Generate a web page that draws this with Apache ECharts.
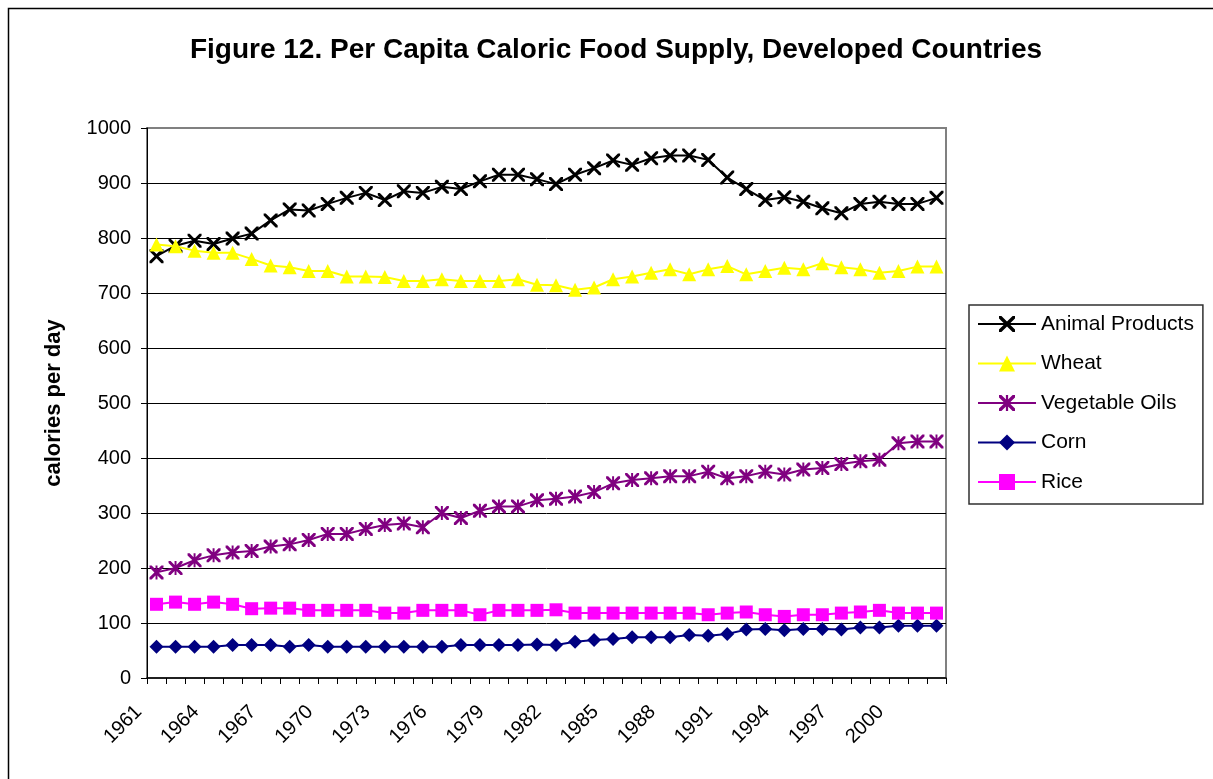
<!DOCTYPE html>
<html>
<head>
<meta charset="utf-8">
<title>Per Capita Caloric Food Supply, Developed Countries</title>
<script src="https://cdn.jsdelivr.net/npm/echarts@6/dist/echarts.min.js"></script>
<style>
  html, body { margin: 0; padding: 0; background: #ffffff; }
  #chart { width: 1213px; height: 779px; }
</style>
</head>
<body>
<div id="chart"></div>
<script>
// Years on the category axis
const years = [
  '1961','1962','1963','1964','1965','1966','1967','1968','1969','1970',
  '1971','1972','1973','1974','1975','1976','1977','1978','1979','1980',
  '1981','1982','1983','1984','1985','1986','1987','1988','1989','1990',
  '1991','1992','1993','1994','1995','1996','1997','1998','1999','2000',
  '2001','2002'
];

// Calories per person per day, by food group
const animalProducts = [
  767, 786, 795, 789, 799, 808, 832, 852, 850, 862,
  873, 882, 869, 885, 882, 893, 889, 903, 915, 915,
  907, 898, 915, 927, 941, 933, 945, 950, 950, 942,
  910, 889, 869, 874, 866, 854, 845, 862, 866, 862,
  862, 873
];
const wheat = [
  788, 785, 777, 773, 773, 762, 750, 747, 740, 740,
  730, 730, 729, 722, 722, 725, 722, 722, 722, 725,
  715, 714, 706, 710, 725, 730, 737, 743, 734, 743,
  749, 734, 740, 746, 743, 754, 747, 743, 737, 740,
  748, 748
];
const vegetableOils = [
  192, 200, 214, 223, 228, 231, 239, 243, 251, 262,
  262, 271, 278, 281, 274, 300, 291, 304, 312, 312,
  323, 326, 330, 338, 354, 360, 363, 367, 367, 375,
  363, 367, 375, 370, 379, 382, 389, 394, 397, 427,
  430, 430
];
const corn = [
  57, 57, 57, 57, 60, 60, 60, 57, 60, 57,
  57, 57, 57, 57, 57, 57, 60, 60, 60, 60,
  61, 60, 66, 69, 71, 74, 74, 74, 78, 77,
  80, 88, 89, 87, 89, 89, 88, 92, 92, 95,
  95, 95
];
const rice = [
  134, 138, 134, 138, 134, 126, 127, 127, 123, 123,
  123, 123, 118, 118, 123, 123, 123, 115, 123, 123,
  123, 124, 118, 118, 118, 118, 118, 118, 118, 115,
  118, 120, 115, 112, 115, 115, 118, 120, 123, 118,
  118, 118
];

// Marker shapes: a thin "x" cross and an asterisk (x plus a vertical bar)
const crossPath = 'path://M0,0 L3,0 L10,7 L17,0 L20,0 L20,3 L13,10 L20,17 L20,20 L17,20 L10,13 L3,20 L0,20 L0,17 L7,10 L0,3 Z';
const asteriskPath = 'path://M0,0 L3,0 L10,7 L17,0 L20,0 L20,3 L13,10 L20,17 L20,20 L17,20 L10,13 L3,20 L0,20 L0,17 L7,10 L0,3 Z M8.6,0 L11.4,0 L11.4,20 L8.6,20 Z';

const FONT = 'Liberation Sans, Arial, sans-serif';

function lineSeries(name, data, color, symbol, size) {
  return {
    name: name,
    type: 'line',
    data: data,
    symbol: symbol,
    symbolSize: size,
    showAllSymbol: true,
    lineStyle: { color: color, width: 2 },
    itemStyle: { color: color, borderWidth: 0 },
    emphasis: { disabled: true }
  };
}

const chart = echarts.init(document.getElementById('chart'), null, { renderer: 'canvas' });

chart.setOption({
  animation: false,
  backgroundColor: '#ffffff',
  textStyle: { fontFamily: FONT },
  title: {
    text: 'Figure 12. Per Capita Caloric Food Supply, Developed Countries',
    left: 611,
    top: 31,
    textAlign: 'center',
    textStyle: { fontFamily: FONT, fontSize: 28, fontWeight: 'bold', color: '#000000' }
  },
  graphic: [
    {
      type: 'rect',
      shape: { x: 8.5, y: 8.5, width: 1400, height: 1000 },
      style: { fill: 'none', stroke: '#000000', lineWidth: 1.5 },
      silent: true,
      z: -1
    }
  ],
  grid: {
    left: 147,
    right: 267,
    top: 128,
    bottom: 101,
    show: true,
    borderColor: '#808080',
    borderWidth: 2,
    backgroundColor: '#ffffff'
  },
  legend: {
    orient: 'vertical',
    left: 969,
    top: 305,
    padding: [8, 9, 11, 8],
    itemWidth: 58,
    itemHeight: 20,
    itemGap: 17.5,
    borderColor: '#303030',
    borderWidth: 1.5,
    backgroundColor: '#ffffff',
    textStyle: { fontFamily: FONT, fontSize: 21, color: '#000000', lineHeight: 22 },
    data: ['Animal Products', 'Wheat', 'Vegetable Oils', 'Corn', 'Rice']
  },
  xAxis: {
    type: 'category',
    data: years,
    boundaryGap: true,
    axisLine: { show: true, lineStyle: { color: '#000000', width: 1.5 } },
    axisTick: { show: true, interval: 0, length: 6, lineStyle: { color: '#000000' } },
    axisLabel: {
      interval: 2,
      rotate: 45,
      margin: 13,
      padding: [0, 25, 0, 0],
      fontFamily: FONT,
      fontSize: 20,
      color: '#000000'
    },
    splitLine: { show: false }
  },
  yAxis: {
    type: 'value',
    min: 0,
    max: 1000,
    interval: 100,
    name: 'calories per day',
    nameLocation: 'middle',
    nameRotate: 90,
    nameGap: 82,
    nameTextStyle: { fontFamily: FONT, fontSize: 22, fontWeight: 'bold', color: '#000000' },
    axisLine: { show: true, lineStyle: { color: '#000000', width: 1 } },
    axisTick: { show: true, length: 6, lineStyle: { color: '#000000' } },
    axisLabel: {
      margin: 16,
      fontFamily: FONT,
      fontSize: 20,
      color: '#000000',
      formatter: function (v) { return String(v); }
    },
    splitLine: { show: true, showMinLine: false, showMaxLine: false, lineStyle: { color: '#000000', width: 1 } }
  },
  series: [
    lineSeries('Animal Products', animalProducts, '#000000', crossPath, 14),
    lineSeries('Wheat', wheat, '#ffff00', 'triangle', 14),
    lineSeries('Vegetable Oils', vegetableOils, '#800080', asteriskPath, 14),
    lineSeries('Corn', corn, '#000080', 'diamond', 14),
    lineSeries('Rice', rice, '#ff00ff', 'rect', 13)
  ]
});
</script>
</body>
</html>
